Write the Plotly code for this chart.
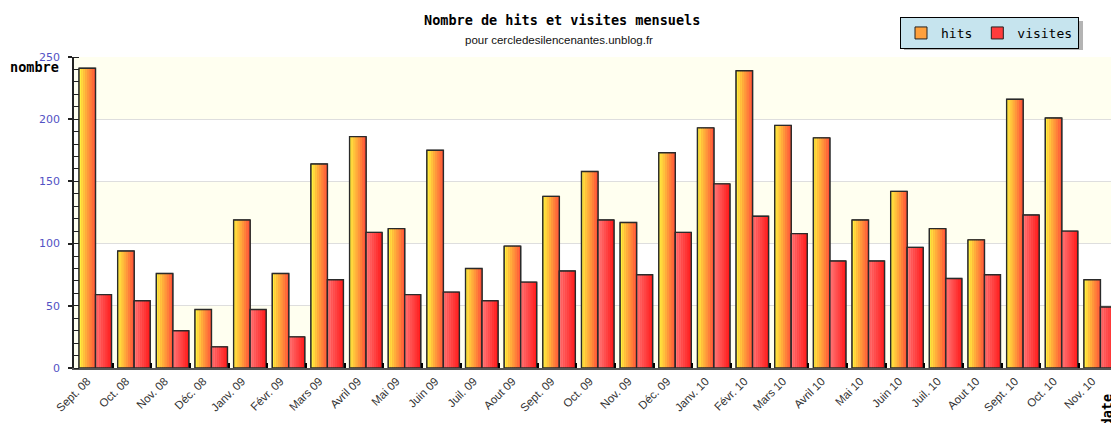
import plotly.graph_objects as go

months = ["Sept. 08", "Oct. 08", "Nov. 08", "Déc. 08", "Janv. 09", "Févr. 09", "Mars 09",
          "Avril 09", "Mai 09", "Juin 09", "Juil. 09", "Aout 09", "Sept. 09", "Oct. 09",
          "Nov. 09", "Déc. 09", "Janv. 10", "Févr. 10", "Mars 10", "Avril 10", "Mai 10",
          "Juin 10", "Juil. 10", "Aout 10", "Sept. 10", "Oct. 10", "Nov. 10"]
hits = [241, 94, 76, 47, 119, 76, 164, 186, 112, 175, 80, 98, 138, 158, 117, 173,
        193, 239, 195, 185, 119, 142, 112, 103, 216, 201, 71]
visites = [59, 54, 30, 17, 47, 25, 71, 109, 59, 61, 54, 69, 78, 119, 75, 109,
           148, 122, 108, 86, 86, 97, 72, 75, 123, 110, 49]


def lerp(c1, c2, t):
    return "rgb(%d,%d,%d)" % tuple(round(a + (b - a) * t) for a, b in zip(c1, c2))


fig = go.Figure()

series = [
    ("hits", hits, -0.370, 0.427, (255, 238, 62), (255, 84, 56), "rgb(255,160,60)"),
    ("visites", visites, 0.057, 0.414, (255, 118, 118), (255, 28, 28), "rgb(255,60,60)"),
]
N = 8
for name, vals, off, w, c1, c2, mid in series:
    # base trace (legend)
    fig.add_trace(go.Bar(x=months, y=vals, name=name, offset=off, width=w,
                         marker=dict(color=mid, line=dict(color="#222", width=1)),
                         showlegend=True, hoverinfo="skip"))
    # gradient stripes
    for k in range(N):
        fig.add_trace(go.Bar(x=months, y=vals, offset=off + k * w / N, width=w / N,
                             marker=dict(color=lerp(c1, c2, k / (N - 1)), line=dict(width=0)),
                             showlegend=False, hoverinfo="skip"))
    # outline
    fig.add_trace(go.Bar(x=months, y=vals, offset=off, width=w,
                         marker=dict(color="rgba(0,0,0,0)", line=dict(color="#2a2a2a", width=1.4)),
                         showlegend=False, hoverinfo="skip"))

# alternating background bands
for y0, y1 in [(0, 50), (100, 150), (200, 250)]:
    fig.add_shape(type="rect", xref="paper", yref="y", x0=0, x1=1, y0=y0, y1=y1,
                  fillcolor="#fffff0", line=dict(width=0), layer="below")

W, H = 1111, 423
L, R, T, B = 74, 0, 57, 55
pw, ph = W - L - R, H - T - B


def px(x):
    return (x - L) / pw


def py(y):
    return (H - B - y) / ph


# legend shadow
fig.add_shape(type="rect", xref="paper", yref="paper",
              x0=px(904), x1=px(1083), y0=py(50), y1=py(21),
              fillcolor="#b4b4b4", line=dict(width=0), layer="above")

fig.add_annotation(text="<b>Nombre de hits et visites mensuels</b>", xref="paper", yref="paper",
                   x=px(562), y=py(20), showarrow=False, xanchor="center", yanchor="middle",
                   font=dict(family="DejaVu Sans Mono", size=13.5, color="#000"))
fig.add_annotation(text="pour cercledesilencenantes.unblog.fr", xref="paper", yref="paper",
                   x=px(559), y=py(40), showarrow=False, xanchor="center", yanchor="middle",
                   font=dict(family="Liberation Sans", size=11.5, color="#111"))
fig.add_annotation(text="<b>nombre</b>", xref="paper", yref="paper",
                   x=px(8), y=py(67), showarrow=False, xanchor="left", yanchor="middle",
                   font=dict(family="DejaVu Sans Mono", size=13.5, color="#000"))
fig.add_annotation(text="<b>date</b>", xref="paper", yref="paper",
                   x=px(1106), y=py(392), showarrow=False, xanchor="center", yanchor="top",
                   textangle=-90,
                   font=dict(family="DejaVu Sans Mono", size=13.5, color="#000"))

fig.update_layout(
    width=W, height=H,
    margin=dict(l=L, r=R, t=T, b=B, pad=0, autoexpand=False),
    paper_bgcolor="white", plot_bgcolor="white",
    barmode="overlay",
    showlegend=True,
    legend=dict(orientation="h", x=px(1079), xanchor="right", y=py(17), yanchor="top",
                bgcolor="#c6e4ee", bordercolor="#000", borderwidth=1,
                font=dict(family="DejaVu Sans Mono", size=13, color="#000"),
                itemwidth=30, tracegroupgap=0),
    xaxis=dict(type="category", range=[-0.5, 26.33], tickson="boundaries",
               ticks="inside", ticklen=5, tickwidth=2, tickcolor="#000",
               showline=True, linecolor="#555", linewidth=2, showgrid=False,
               tickangle=-45, ticklabelshift=-6, automargin=False,
               tickfont=dict(family="Liberation Sans", size=11.5, color="#333"),
               tickmode="array", tickvals=months, ticktext=months, fixedrange=True),
    yaxis=dict(range=[0, 250], dtick=50, tick0=0, showline=True, linecolor="#222", linewidth=1.5,
               ticks="outside", ticklen=4, tickcolor="#222", tickwidth=1.5, automargin=False,
               minor=dict(ticks="inside", dtick=10, ticklen=5, tickcolor="#222", tickwidth=1.2,
                          showgrid=False),
               showgrid=True, gridcolor="#dedede", gridwidth=1, zeroline=False,
               tickfont=dict(family="DejaVu Sans", size=11, color="#5252c4"),
               ticklabelstandoff=6, fixedrange=True),
)

fig.write_html("out.html", config={"displayModeBar": False},
               post_script="document.body.style.margin='0';document.body.style.overflow='hidden';")
